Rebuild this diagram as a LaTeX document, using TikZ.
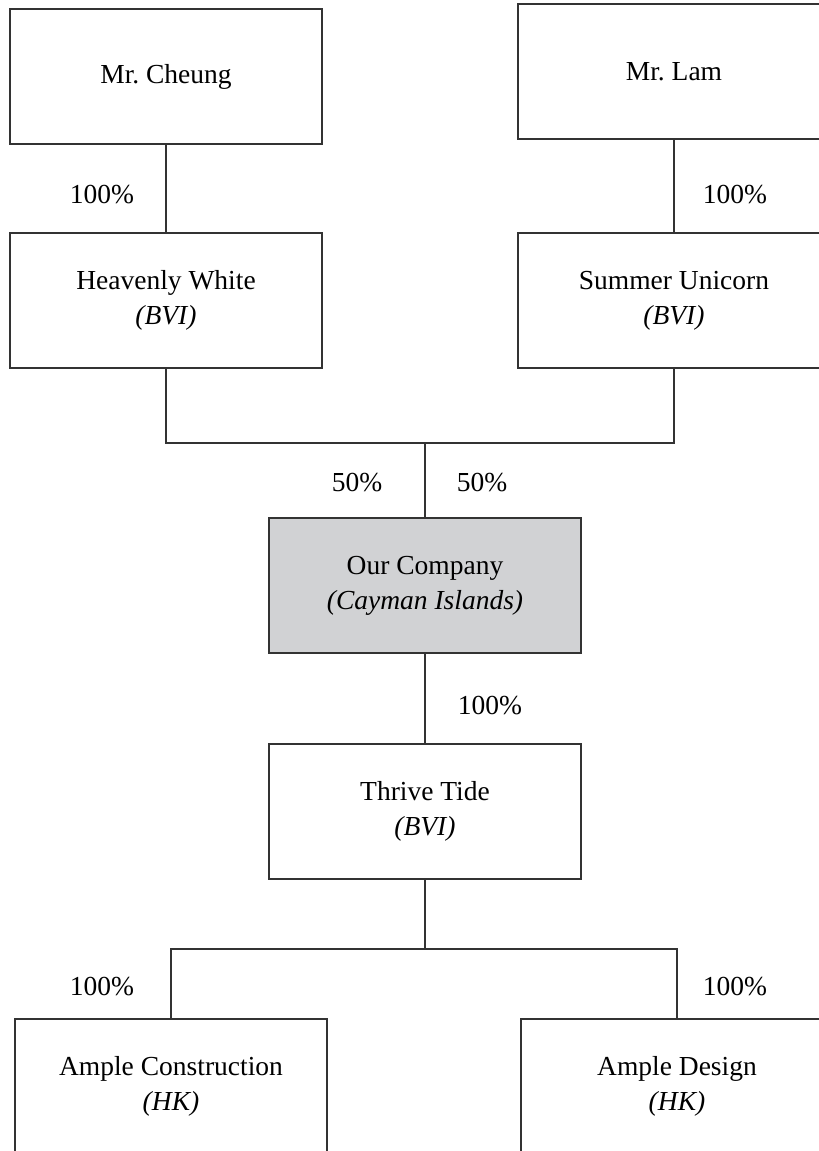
\documentclass[tikz,border=0pt]{standalone}
\usepackage{fontspec}
\setmainfont{Liberation Serif}
\frenchspacing
\begin{document}
\begin{tikzpicture}[x=1pt,y=-1pt,
  box/.style={draw=linegray, line width=1.6pt, minimum width=312pt, minimum height=135pt, inner sep=0pt, align=center, font=\fontsize{27.5}{35}\selectfont},
  pct/.style={inner sep=0pt, font=\fontsize{27.5}{33}\selectfont},
  conn/.style={draw=linegray, line width=1.6pt}]
\definecolor{linegray}{HTML}{333333}
\definecolor{oursfill}{HTML}{D1D2D4}
\useasboundingbox (0,0) rectangle (819,1151);
\clip (0,0) rectangle (819,1151);
\node[box] (cheung) at (166,76.5) {\frenchspacing Mr. Cheung};
\node[box] (lam) at (674,71.5) {\frenchspacing Mr. Lam};
\node[box] (hw) at (166,300.5) {Heavenly White\\\textit{(BVI)}};
\node[box] (su) at (674,300.5) {Summer Unicorn\\\textit{(BVI)}};
\node[box, fill=oursfill] (ours) at (425,585.5) {Our Company\\\textit{(Cayman Islands)}};
\node[box] (tt) at (425,811.5) {Thrive Tide\\\textit{(BVI)}};
\node[box] (ac) at (171,1086.5) {Ample Construction\\\textit{(HK)}};
\node[box] (ad) at (677,1086.5) {Ample Design\\\textit{(HK)}};
\coordinate (j1) at (425,443);
\coordinate (j2) at (425,949);
\draw[conn] (cheung.south) -- (hw.north);
\draw[conn] (lam.south) -- (su.north);
\draw[conn] (hw.south) |- (j1) -| (su.south);
\draw[conn] (j1) -- (ours.north);
\draw[conn] (ours.south) -- (tt.north);
\draw[conn] (tt.south) -- (j2);
\draw[conn] (ac.north) |- (j2) -| (ad.north);
\node[pct] (p1) at (102,195) {100\%};
\node[pct] (p2) at (735,195) {100\%};
\node[pct] (p3) at (357,483) {50\%};
\node[pct] (p4) at (482,483) {50\%};
\node[pct] (p5) at (490,706) {100\%};
\node[pct] (p6) at (102,987) {100\%};
\node[pct] (p7) at (735,987) {100\%};
\end{tikzpicture}
\end{document}
